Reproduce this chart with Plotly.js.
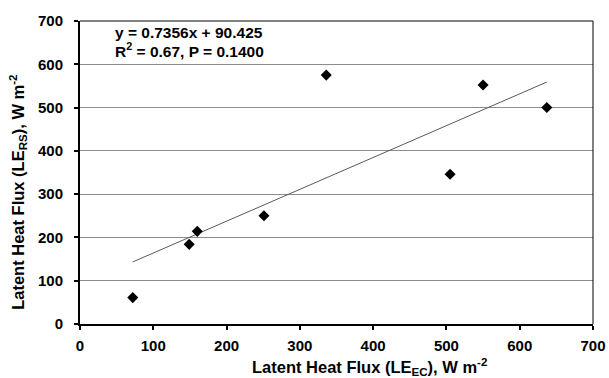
<!DOCTYPE html>
<html>
<head>
<meta charset="utf-8">
<script src="https://cdn.plot.ly/plotly-3.0.1.min.js"></script>
<style>html,body{margin:0;padding:0;background:#fff;}#chart{width:609px;height:378px;}</style>
</head>
<body>
<div id="chart"></div>
<script>
// Data
const leEC = [72, 149, 160, 251, 336, 505, 550, 637];
const leRS = [61, 184, 214, 250, 575, 346, 552, 500];
const trendSlope = [0.7356];
const trendIntercept = [90.425];
const tickVals = [0, 100, 200, 300, 400, 500, 600, 700];
const tickText = tickVals.map(v => '<b>' + v + '</b>');

const xmin = Math.min(...leEC), xmax = Math.max(...leEC);
const trendX = [xmin, xmax];
const trendY = trendX.map(v => trendSlope[0] * v + trendIntercept[0]);

const fam = '"Liberation Sans", Arial, sans-serif';
const f = (size) => ({family: fam, color: '#000', size: size});

const data = [
  {x: trendX, y: trendY, mode: 'lines', line: {color: '#5a5a5a', width: 1}, hoverinfo: 'skip', showlegend: false},
  {x: leEC, y: leRS, mode: 'markers', marker: {symbol: 'diamond', size: 8.5, color: '#000'}, showlegend: false}
];

const layout = {
  width: 609, height: 378,
  margin: {l: 80, r: 16, t: 21, b: 54},
  paper_bgcolor: '#fff', plot_bgcolor: '#fff',
  font: f(15),
  xaxis: {
    range: [0, 700], tickvals: tickVals, ticktext: tickText, showgrid: false, zeroline: false,
    showline: true, linecolor: '#000', linewidth: 2,
    ticks: 'outside', ticklen: 4, tickwidth: 2, tickcolor: '#000', ticklabelstandoff: 3,
    tickfont: f(15)
  },
  yaxis: {
    range: [0, 700], tickvals: tickVals, ticktext: tickText, showgrid: true, gridcolor: '#8c8c8c', gridwidth: 1, zeroline: false,
    showline: true, linecolor: '#000', linewidth: 2,
    ticks: 'outside', ticklen: 4, tickwidth: 2, tickcolor: '#000', ticklabelstandoff: 8,
    tickfont: f(15)
  },
  shapes: [
    {type: 'line', xref: 'paper', yref: 'paper', x0: 0, x1: 1, y0: 1, y1: 1, line: {color: '#000', width: 1}},
    {type: 'line', xref: 'paper', yref: 'paper', x0: 1, x1: 1, y0: 0, y1: 1, line: {color: '#000', width: 1}}
  ],
  annotations: [
    {xref: 'paper', yref: 'paper', x: 0.064, y: 0.962, xanchor: 'left', yanchor: 'middle', showarrow: false,
     text: '<b>y = 0.7356x + 90.425</b>', font: f(15.5)},
    {xref: 'paper', yref: 'paper', x: 0.064, y: 0.905, xanchor: 'left', yanchor: 'middle', showarrow: false,
     text: '<b>R<sup>2</sup> = 0.67, P = 0.1400</b>', font: f(15.5)},
    {xref: 'paper', yref: 'paper', x: 0.565, y: -0.142, xanchor: 'center', yanchor: 'middle', showarrow: false,
     text: '<b>Latent Heat Flux (LE<sub>EC</sub>), W m<sup>-2</sup></b>', font: f(16.5)},
    {xref: 'paper', yref: 'paper', x: -0.121, y: 0.436, xanchor: 'center', yanchor: 'middle', showarrow: false, textangle: -90,
     text: '<b>Latent Heat Flux (LE<sub>RS</sub>), W m<sup>-2</sup></b>', font: f(16.5)}
  ]
};

Plotly.newPlot('chart', data, layout, {displayModeBar: false, staticPlot: true});
</script>
</body>
</html>
